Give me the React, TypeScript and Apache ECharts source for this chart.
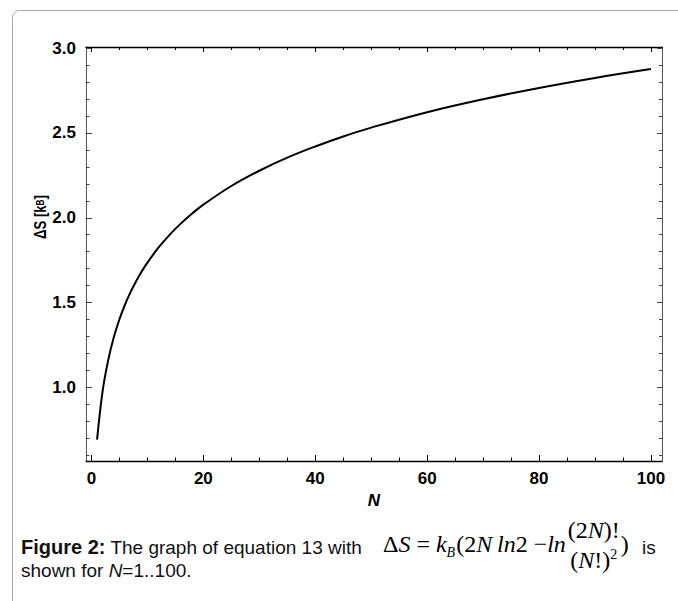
import React, { useEffect, useRef } from "react";
import * as echarts from "echarts";

// Values
const N_VALUES = [1, 2, 3, 4, 5, 6, 7, 8, 9, 10, 12, 14, 16, 18, 20, 25, 30, 35, 40, 45, 50, 60, 70, 80, 90, 100];
const DELTA_S = [0.693, 0.981, 1.163, 1.297, 1.402, 1.489, 1.563, 1.628, 1.685, 1.736, 1.825, 1.901, 1.967, 2.025, 2.077, 2.187, 2.277, 2.354, 2.42, 2.479, 2.531, 2.622, 2.698, 2.765, 2.824, 2.876];

const X_MAJOR_TICKS = [0, 20, 40, 60, 80, 100];
const X_MINOR_TICKS = [5, 10, 15, 25, 30, 35, 45, 50, 55, 65, 70, 75, 85, 90, 95];
const Y_MAJOR_TICKS = [1.0, 1.5, 2.0, 2.5, 3.0];
const Y_MINOR_TICKS = [0.6, 0.7, 0.8, 0.9, 1.1, 1.2, 1.3, 1.4, 1.6, 1.7, 1.8, 1.9, 2.1, 2.2, 2.3, 2.4, 2.6, 2.7, 2.8, 2.9];

const X_MIN = -0.98;
const X_MAX = 101.98;
const Y_MIN = 0.567;
const Y_MAX = 3.006;

const SANS = "'Liberation Sans', Arial, sans-serif";
const SERIF = "'Liberation Serif', 'Times New Roman', serif";

const L1 = 547; // caption line 1 centre
const L2 = 570; // caption line 2 centre

type Piece = { text: string; size: number; italic?: boolean; gap?: number; rise?: number };

let measureCtx: CanvasRenderingContext2D | null = null;
function textWidth(text: string, font: string): number {
  if (!measureCtx) measureCtx = document.createElement("canvas").getContext("2d");
  if (!measureCtx) return text.length * 10;
  measureCtx.font = font;
  return measureCtx.measureText(text).width;
}
function pieceFont(p: Piece) {
  return `${p.italic ? "italic " : ""}${p.size}px ${SERIF}`;
}
function piecesWidth(ps: Piece[]) {
  return ps.reduce((s, p) => s + (p.gap || 0) + textWidth(p.text, pieceFont(p)), 0);
}
function layPieces(ps: Piece[], x0: number, baseline: number, out: any[]) {
  let x = x0;
  for (const p of ps) {
    x += p.gap || 0;
    out.push({
      type: "text",
      silent: true,
      x,
      y: baseline - (p.rise || 0) - 0.36 * p.size,
      style: { text: p.text, fill: "#000", font: pieceFont(p), verticalAlign: "middle", align: "left" },
    });
    x += textWidth(p.text, pieceFont(p));
  }
  return x;
}

function buildFormula(): any[] {
  const out: any[] = [];
  const FS = 24;
  const SUB = 14;
  const base = L1 + 6;
  let x = 383;
  x = layPieces(
    [
      { text: "Δ", size: FS },
      { text: "S", size: FS, italic: true },
      { text: " = ", size: FS },
      { text: "k", size: FS, italic: true },
      { text: "B", size: SUB, italic: true, rise: -5 },
      { text: "(2", size: FS, gap: 1 },
      { text: "N", size: FS, italic: true },
      { text: "\u2009", size: FS },
      { text: "ln", size: FS, italic: true },
      { text: "2 −", size: FS },
      { text: "ln", size: FS, italic: true },
    ],
    x,
    base,
    out
  );
  const num: Piece[] = [
    { text: "(2", size: FS },
    { text: "N", size: FS, italic: true },
    { text: ")!", size: FS },
  ];
  const den: Piece[] = [
    { text: "(", size: FS },
    { text: "N", size: FS, italic: true },
    { text: "!)", size: FS },
    { text: "2", size: SUB, rise: 9 },
  ];
  const fx = x + 2;
  const nw = piecesWidth(num);
  const dw = piecesWidth(den);
  const fw = Math.max(nw, dw);
  layPieces(num, fx + (fw - nw) / 2, base - 14, out);
  layPieces(den, fx + (fw - dw) / 2, base + 16, out);
  layPieces([{ text: ")", size: FS }], fx + fw + 1, base, out);
  return out;
}

export default function App() {
  const ref = useRef<HTMLDivElement>(null);

  useEffect(() => {
    if (!ref.current) return;
    const chart = echarts.init(ref.current, null, { renderer: "svg" });

    const tickLabel = {
      color: "#000",
      fontFamily: SANS,
      fontWeight: "bold" as const,
      fontSize: 17,
    };

    const xBase = { type: "value" as const, min: X_MIN, max: X_MAX, splitLine: { show: false } };
    const yBase = { type: "value" as const, min: Y_MIN, max: Y_MAX, splitLine: { show: false } };

    const option: any = {
      animation: false,
      backgroundColor: "#fff",
      grid: { left: 86, top: 47, width: 576, height: 414, containLabel: false },
      xAxis: [
        {
          ...xBase,
          position: "bottom",
          axisLine: { show: true, onZero: false, lineStyle: { color: "#000", width: 1.3 } },
          axisTick: { show: true, inside: true, length: 6, customValues: X_MAJOR_TICKS, lineStyle: { color: "#000" } },
          axisLabel: { show: true, margin: 9, customValues: X_MAJOR_TICKS, ...tickLabel },
          name: "N",
          nameLocation: "middle",
          nameGap: 24,
          nameTextStyle: { color: "#000", fontFamily: SANS, fontWeight: "bold", fontStyle: "italic", fontSize: 17 },
        },
        {
          ...xBase,
          position: "bottom",
          axisLine: { show: false, onZero: false },
          axisTick: { show: true, inside: true, length: 3.5, customValues: X_MINOR_TICKS, lineStyle: { color: "#000" } },
          axisLabel: { show: false },
        },
        {
          ...xBase,
          position: "top",
          axisLine: { show: true, onZero: false, lineStyle: { color: "#000", width: 1.3 } },
          axisTick: { show: true, inside: true, length: 5, customValues: X_MAJOR_TICKS, lineStyle: { color: "#000" } },
          axisLabel: { show: false },
        },
        {
          ...xBase,
          position: "top",
          axisLine: { show: false, onZero: false },
          axisTick: { show: true, inside: true, length: 3, customValues: X_MINOR_TICKS, lineStyle: { color: "#000" } },
          axisLabel: { show: false },
        },
      ],
      yAxis: [
        {
          ...yBase,
          position: "left",
          axisLine: { show: true, onZero: false, lineStyle: { color: "#555", width: 1 } },
          axisTick: { show: true, inside: true, length: 6, customValues: Y_MAJOR_TICKS, lineStyle: { color: "#444" } },
          axisLabel: {
            show: true,
            margin: 10,
            customValues: Y_MAJOR_TICKS,
            formatter: (v: number) => v.toFixed(1),
            ...tickLabel,
          },
        },
        {
          ...yBase,
          position: "left",
          axisLine: { show: false, onZero: false },
          axisTick: { show: true, inside: true, length: 3.5, customValues: Y_MINOR_TICKS, lineStyle: { color: "#444" } },
          axisLabel: { show: false },
        },
        {
          ...yBase,
          position: "right",
          axisLine: { show: true, onZero: false, lineStyle: { color: "#555", width: 1 } },
          axisTick: { show: true, inside: true, length: 5, customValues: Y_MAJOR_TICKS, lineStyle: { color: "#444" } },
          axisLabel: { show: false },
        },
        {
          ...yBase,
          position: "right",
          axisLine: { show: false, onZero: false },
          axisTick: { show: true, inside: true, length: 3, customValues: Y_MINOR_TICKS, lineStyle: { color: "#444" } },
          axisLabel: { show: false },
        },
      ],
      series: [
        {
          type: "line",
          xAxisIndex: 0,
          yAxisIndex: 0,
          data: N_VALUES.map((n, i) => [n, DELTA_S[i]]),
          showSymbol: false,
          smooth: 0.4,
          lineStyle: { color: "#000", width: 2 },
          silent: true,
        },
      ],
      graphic: [
        {
          type: "rect",
          silent: true,
          shape: { x: 12.5, y: 10.5, width: 720, height: 720, r: 7 },
          style: { fill: "none", stroke: "#a8a8a8", lineWidth: 1 },
        },
        {
          type: "text",
          silent: true,
          x: 41,
          y: 217,
          rotation: Math.PI / 2,
          scaleX: 0.82,
          style: {
            text: "ΔS [k{b|B}]",
            fill: "#000",
            font: `bold 16px ${SANS}`,
            align: "center",
            verticalAlign: "middle",
            rich: { b: { fontSize: 10, fontWeight: "bold", fontFamily: SANS, fill: "#000" } },
          },
        },
        {
          type: "text",
          silent: true,
          x: 21,
          y: L1,
          style: {
            text: "{b|Figure 2:} The graph of equation 13 with",
            fill: "#111",
            font: `19px ${SANS}`,
            verticalAlign: "middle",
            rich: { b: { fontWeight: "bold", fontSize: 20, fontFamily: SANS, fill: "#111" } },
          },
        },
        ...buildFormula(),
        {
          type: "text",
          silent: true,
          x: 642,
          y: L1,
          style: { text: "is", fill: "#111", font: `19px ${SANS}`, verticalAlign: "middle" },
        },
        {
          type: "text",
          silent: true,
          x: 21,
          y: L2,
          style: {
            text: "shown for {i|N}=1..100.",
            fill: "#111",
            font: `19px ${SANS}`,
            verticalAlign: "middle",
            rich: { i: { fontStyle: "italic", fontSize: 19, fontFamily: SANS, fill: "#111" } },
          },
        },
      ],
    };

    chart.setOption(option);
    return () => {
      chart.dispose();
    };
  }, []);

  return <div ref={ref} style={{ position: "absolute", left: 0, top: 0, width: 678, height: 601 }} />;
}
